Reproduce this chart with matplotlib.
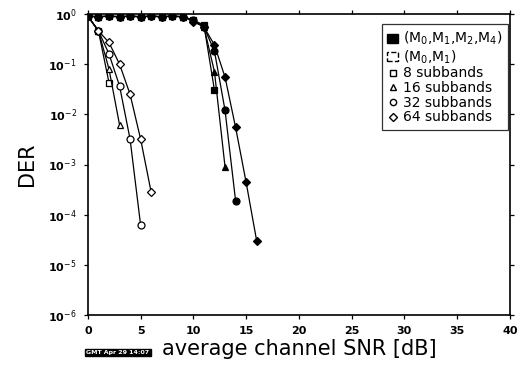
import numpy as np
import matplotlib.pyplot as plt
from matplotlib.lines import Line2D
from matplotlib.patches import Patch

plt.rcParams['font.family'] = ['DejaVu Sans']

# DER vs average channel SNR, scheme (M0,M1) -> open markers
snr_a8 = [0, 1, 2]
der_a8 = [0.9, 0.46, 0.043]
snr_a16 = [0, 1, 2, 3]
der_a16 = [0.9, 0.46, 0.08, 0.0062]
snr_a32 = [0, 1, 2, 3, 4, 5]
der_a32 = [0.9, 0.46, 0.16, 0.037, 0.0032, 6.2e-5]
snr_a64 = [0, 1, 2, 3, 4, 5, 6]
der_a64 = [0.9, 0.46, 0.27, 0.1, 0.025, 0.0032, 2.8e-4]

# scheme (M0,M1,M2,M4) -> filled markers
snr_b8 = [0, 1, 2, 3, 4, 5, 6, 7, 8, 9, 10, 11, 12]
der_b8 = [0.9, 0.88, 0.9, 0.88, 0.9, 0.88, 0.9, 0.88, 0.9, 0.88, 0.75, 0.6, 0.03]
snr_b16 = [0, 1, 2, 3, 4, 5, 6, 7, 8, 9, 10, 11, 12, 13]
der_b16 = [0.9, 0.88, 0.9, 0.88, 0.9, 0.88, 0.9, 0.88, 0.9, 0.88, 0.75, 0.55, 0.07, 9e-4]
snr_b32 = [0, 1, 2, 3, 4, 5, 6, 7, 8, 9, 10, 11, 12, 13, 14]
der_b32 = [0.9, 0.88, 0.9, 0.88, 0.9, 0.88, 0.9, 0.88, 0.9, 0.88, 0.75, 0.55, 0.18, 0.012, 1.9e-4]
snr_b64 = [0, 1, 2, 3, 4, 5, 6, 7, 8, 9, 10, 11, 12, 13, 14, 15, 16]
der_b64 = [0.9, 0.88, 0.9, 0.88, 0.9, 0.88, 0.9, 0.88, 0.9, 0.88, 0.7, 0.55, 0.24, 0.055, 0.0055, 4.4e-4, 3.0e-5]

fig = plt.figure(figsize=(5.23, 3.76), dpi=100)
ax = fig.add_axes([0.168, 0.162, 0.807, 0.801])

ms = 5
for x, y, m in [(snr_a8, der_a8, 's'), (snr_a16, der_a16, '^'),
                (snr_a32, der_a32, 'o'), (snr_a64, der_a64, 'D')]:
    ax.plot(x, y, color='black', lw=0.9, marker=m, ms=ms if m != 'D' else ms - 0.5,
            mfc='white', mec='black', mew=0.9)
for x, y, m in [(snr_b8, der_b8, 's'), (snr_b16, der_b16, '^'),
                (snr_b32, der_b32, 'o'), (snr_b64, der_b64, 'D')]:
    ax.plot(x, y, color='black', lw=0.9, marker=m, ms=ms if m != 'D' else ms - 0.5,
            mfc='black', mec='black', mew=0.9)

ax.set_yscale('log')
ax.set_xlim(0, 40)
ax.set_ylim(1e-6, 1)
ax.set_xticks(np.arange(0, 41, 5))
ax.set_yticks([1e-6, 1e-5, 1e-4, 1e-3, 1e-2, 1e-1, 1])
ax.set_yticklabels(['10$^{-6}$', '10$^{-5}$', '10$^{-4}$', '10$^{-3}$',
                    '10$^{-2}$', '10$^{-1}$', '10$^{0}$'])
ax.minorticks_off()
ax.tick_params(direction='out', length=3, width=0.9, top=True, right=True,
               labelsize=8, pad=5)
for lab in ax.get_xticklabels() + ax.get_yticklabels():
    lab.set_fontweight('bold')
for sp in ax.spines.values():
    sp.set_linewidth(1.2)

ax.set_xlabel('average channel SNR [dB]', fontsize=15, labelpad=2)
ax.set_ylabel('DER', fontsize=15, labelpad=8)

handles = [
    Patch(facecolor='black', edgecolor='black'),
    Patch(facecolor='white', edgecolor='black', linestyle='--'),
    Line2D([], [], ls='none', marker='s', mfc='white', mec='black', ms=4.5),
    Line2D([], [], ls='none', marker='^', mfc='white', mec='black', ms=4.5),
    Line2D([], [], ls='none', marker='o', mfc='white', mec='black', ms=4.5),
    Line2D([], [], ls='none', marker='D', mfc='white', mec='black', ms=4.5),
]
labels = ['(M$_0$,M$_1$,M$_2$,M$_4$)', '(M$_0$,M$_1$)', '8 subbands',
          '16 subbands', '32 subbands', '64 subbands']
leg = ax.legend(handles, labels, loc='upper right', bbox_to_anchor=(0.995, 0.965),
                fontsize=10, frameon=True, fancybox=False, edgecolor='black',
                handlelength=0.8, handleheight=0.6, handletextpad=0.3,
                labelspacing=0.05, borderpad=0.4, borderaxespad=0.0)
leg.get_frame().set_linewidth(0.9)

fig.text(0.165, 0.058, 'GMT Apr 29 14:07', fontsize=4.5, color='white',
         fontweight='bold', bbox=dict(facecolor='black', edgecolor='black', pad=0.8))

fig.savefig('out.png', dpi=100)
